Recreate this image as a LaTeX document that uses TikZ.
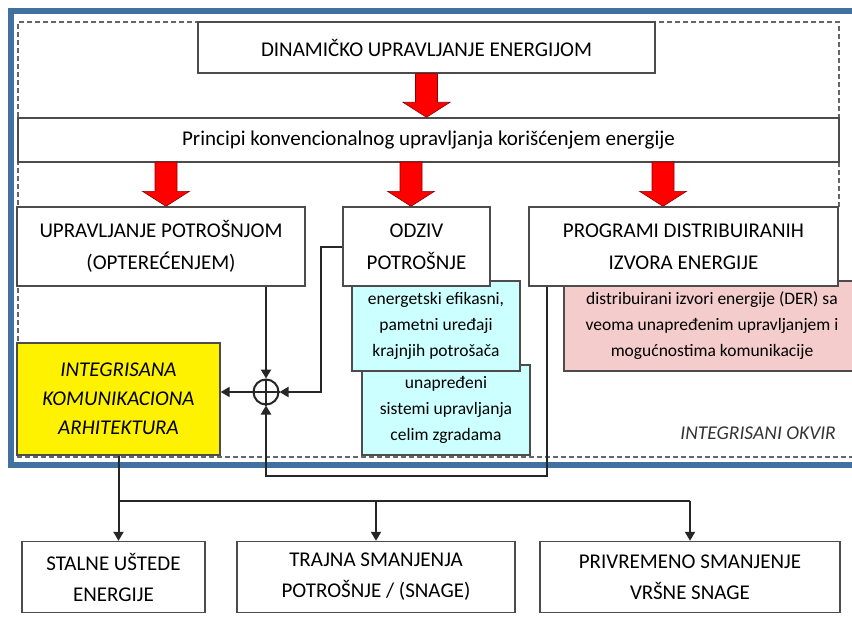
\documentclass[tikz,border=0pt]{standalone}
\usepackage{fontspec}
\setmainfont{Carlito}
\usetikzlibrary{calc,arrows.meta,positioning}
\definecolor{frameblue}{RGB}{66,113,160}
\definecolor{lightcyan}{RGB}{204,255,255}
\definecolor{lightpink}{RGB}{244,204,204}
\tikzset{
    box/.style = {
        draw = black!70,
        line width = 1.4pt,
        fill = white,
        align = center,
        inner sep = 0pt,
        font = \fontsize{21}{32}\selectfont,
        },
    cyan box/.style = {
        box,
        fill = lightcyan,
        font = \fontsize{17.5}{26}\selectfont,
        },
    pink box/.style = {
        box,
        fill = lightpink,
        font = \fontsize{17.5}{26}\selectfont,
        },
    result/.style = {
        box,
        font = \fontsize{21}{31}\selectfont,
        },
    conn/.style = {
        draw = black!85,
        line width = 2pt,
        -{Triangle[length=9pt, width=10pt]},
        },
    wire/.style = {
        draw = black!85,
        line width = 2pt,
        },
    red arrow/.style = {
        fill = red,
        draw = red!55!black,
        line width = 0.6pt,
        },
}
\newcommand{\redarrow}[2]{%
    \filldraw[red arrow] let \p1=(#1), \p2=(#2) in
        (\x1-11pt,\y1) -- (\x1+11pt,\y1) -- (\x1+11pt,\y2+15pt) -- (\x1+23.5pt,\y2+15pt)
        -- (\x1,\y2) -- (\x1-23.5pt,\y2+15pt) -- (\x1-11pt,\y2+15pt) -- cycle;}

\begin{document}
\begin{tikzpicture}[x=1pt, y=-1pt]
    \clip (0,0) rectangle (852,618);
    \fill[white] (0,0) rectangle (852,618);

    % framework
    \draw[frameblue, line width=6pt] (11,11) rectangle (900,465);
    \draw[black!60, line width=1.4pt, dash pattern=on 5pt off 3pt] (839,207) -- (839,22) -- (18,22) -- (18,457) -- (870,457);

    \node[box, minimum width=457pt, minimum height=51pt] (top) at (426.5,47.5) {DINAMIČKO UPRAVLJANJE ENERGIJOM};
    \node[box, minimum width=821pt, minimum height=44pt] (princ) at (428.5,140) {Principi konvencionalnog upravljanja korišćenjem energije};

    \node[cyan box, minimum width=168pt, minimum height=90pt] (bldg) at (446,410) {unapređeni\\sistemi upravljanja\\celim zgradama};
    \node[cyan box, minimum width=168pt, minimum height=90pt] (dev) at (436,326) {energetski efikasni,\\pametni uređaji\\krajnjih potrošača};
    \node[pink box, minimum width=296pt, minimum height=90pt] (der) at (712,326) {distribuirani izvori energije (DER) sa\\veoma unapređenim upravljanjem i\\mogućnostima komunikacije};

    \node[box, minimum width=288pt, minimum height=79pt] (upr) at (161,246.5) {UPRAVLJANJE POTROŠNJOM\\(OPTEREĆENJEM)};
    \node[box, minimum width=147pt, minimum height=79pt] (odziv) at (416.5,246.5) {ODZIV\\POTROŠNJE};
    \node[box, minimum width=309pt, minimum height=79pt] (prog) at (683.5,246.5) {PROGRAMI DISTRIBUIRANIH\\IZVORA ENERGIJE};

    \node[box, fill=yellow, minimum width=203pt, minimum height=112pt,
          font=\fontsize{21}{29}\selectfont\itshape] (arch) at (118.5,399) {INTEGRISANA\\KOMUNIKACIONA\\ARHITEKTURA};
    \node[anchor=east, inner sep=0pt, font=\fontsize{19.5}{22}\selectfont\itshape, text=black!80] (okvir) at (836,433) {INTEGRISANI OKVIR};

    \node[draw=black!85, circle, line width=2pt, minimum size=25pt, inner sep=0pt] (sum) at (266,392) {};
    \draw[wire] (sum.north) -- (sum.south) (sum.west) -- (sum.east);

    \node[result, minimum width=183pt, minimum height=71pt] (res1) at (113.5,577) {STALNE UŠTEDE\\ENERGIJE};
    \node[result, minimum width=278pt, minimum height=71pt] (res2) at (376,577) {TRAJNA SMANJENJA\\POTROŠNJE / (SNAGE)};
    \node[result, minimum width=300pt, minimum height=71pt] (res3) at (690,577) {PRIVREMENO SMANJENJE\\VRŠNE SNAGE};

    % red arrows
    \coordinate (a1) at (166,162);
    \coordinate (a2) at (411,162);
    \coordinate (a3) at (663,162);
    \redarrow{top.south}{princ.north}
    \redarrow{a1}{a1 |- upr.north}
    \redarrow{a2}{a2 |- odziv.north}
    \redarrow{a3}{a3 |- prog.north}

    % connectors
    \draw[conn] (upr.south -| sum) -- (sum.north);
    \draw[conn] (odziv.west) -- ++(-21,0) |- (sum.east);
    \draw[conn] (sum.west) -- (sum.west -| arch.east);
    \coordinate (loop) at (547,476);
    \draw[conn] (prog.south -| loop) -- (loop) -| (sum.south);

    \coordinate (split) at ($(arch.south)+(0,45)$);
    \draw[wire] (arch.south) -- (split) -- (split -| res3.north);
    \draw[conn] (split) -- (split |- res1.north);
    \draw[conn] (split -| res2.north) -- (res2.north);
    \draw[conn] (split -| res3.north) -- (res3.north);
\end{tikzpicture}
\end{document}
